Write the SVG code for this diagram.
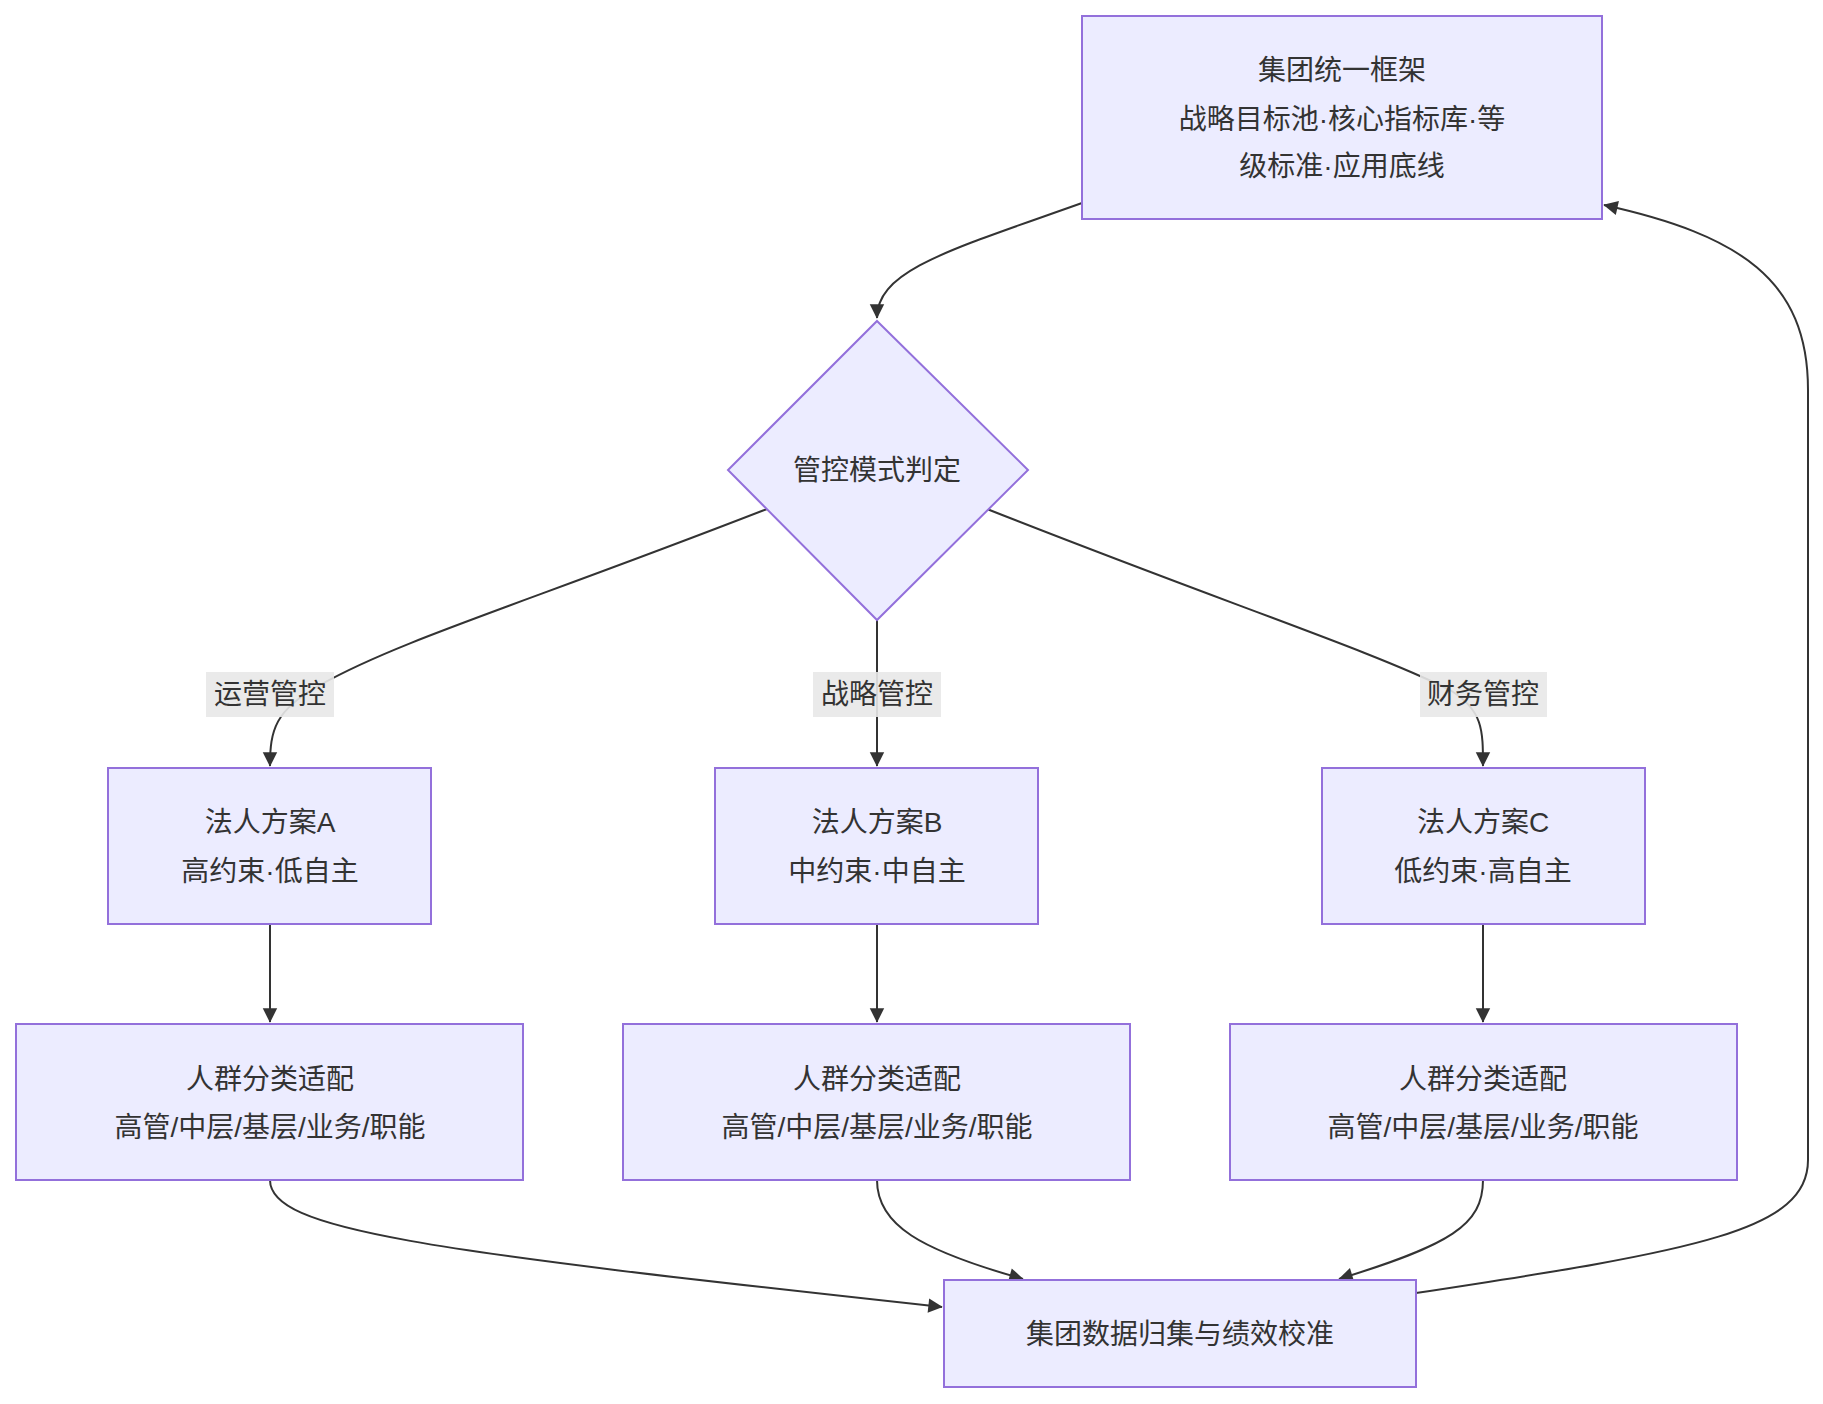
<svg xmlns="http://www.w3.org/2000/svg" width="1823" height="1404" viewBox="0 0 1823 1404">
<defs>
<style>
.n{fill:#ECECFF;stroke:#9370DB;stroke-width:2}
.t{font-family:"Liberation Sans","Noto Sans CJK SC",sans-serif;font-size:28px;fill:#333;text-anchor:middle;dominant-baseline:central}
.e{fill:none;stroke:#333;stroke-width:2;marker-end:url(#ah)}
.lb{fill:#e8e8e8;opacity:0.9}
</style>
<marker id="ah" viewBox="0 0 10 10" refX="9" refY="5" markerWidth="8" markerHeight="8" orient="auto" markerUnits="userSpaceOnUse" style="overflow:visible"><path d="M0,0L10,5L0,10z" fill="#333" transform="scale(1.8) translate(-4.5,-2.2)"/></marker>
</defs>
<rect width="1823" height="1404" fill="#fff"/>
<g id="edges">
<path class="e" d="M1082,203 C950,250 877,270 877,318"/>
<path class="e" d="M767,509 C520,605 400,640 320,685 C275,710 270,730 270,766"/>
<path class="e" d="M877,620 L877,766"/>
<path class="e" d="M987,509 C1230,605 1370,650 1450,690 C1483,710 1483,730 1483,766"/>
<path class="e" d="M270,924 L270,1022"/>
<path class="e" d="M877,924 L877,1022"/>
<path class="e" d="M1483,924 L1483,1022"/>
<path class="e" d="M270,1180 C270,1230 420,1250 942,1307"/>
<path class="e" d="M877,1180 C877,1225 920,1250 1023,1279"/>
<path class="e" d="M1483,1180 C1483,1225 1450,1245 1339,1279"/>
<path class="e" d="M1416,1293 C1700,1250 1808,1230 1808,1160 L1808,390 C1808,280 1740,235 1604,205"/>
</g>
<g id="labels">
<rect class="lb" x="206" y="672" width="128" height="45"/><text class="t" x="270" y="694">运营管控</text>
<rect class="lb" x="813" y="672" width="128" height="45"/><text class="t" x="877" y="694">战略管控</text>
<rect class="lb" x="1420" y="672" width="127" height="45"/><text class="t" x="1483" y="694">财务管控</text>
</g>
<g id="top"><rect class="n" x="1082" y="16" width="520" height="203"/><text class="t" x="1342" y="70">集团统一框架</text><text class="t" x="1342" y="119">战略目标池·核心指标库·等</text><text class="t" x="1342" y="166">级标准·应用底线</text></g>
<g id="decide"><polygon class="n" points="877,321 1028,470 877,620 728,470"/><text class="t" x="877" y="470">管控模式判定</text></g>
<g id="A"><rect class="n" x="108" y="768" width="323" height="156"/><text class="t" x="270" y="822">法人方案A</text><text class="t" x="270" y="871">高约束·低自主</text></g>
<g id="B"><rect class="n" x="715" y="768" width="323" height="156"/><text class="t" x="877" y="822">法人方案B</text><text class="t" x="877" y="871">中约束·中自主</text></g>
<g id="C"><rect class="n" x="1322" y="768" width="323" height="156"/><text class="t" x="1483" y="822">法人方案C</text><text class="t" x="1483" y="871">低约束·高自主</text></g>
<g id="A2"><rect class="n" x="16" y="1024" width="507" height="156"/><text class="t" x="270" y="1079">人群分类适配</text><text class="t" x="270" y="1127">高管/中层/基层/业务/职能</text></g>
<g id="B2"><rect class="n" x="623" y="1024" width="507" height="156"/><text class="t" x="877" y="1079">人群分类适配</text><text class="t" x="877" y="1127">高管/中层/基层/业务/职能</text></g>
<g id="C2"><rect class="n" x="1230" y="1024" width="507" height="156"/><text class="t" x="1483" y="1079">人群分类适配</text><text class="t" x="1483" y="1127">高管/中层/基层/业务/职能</text></g>
<g id="bottom"><rect class="n" x="944" y="1280" width="472" height="107"/><text class="t" x="1180" y="1334">集团数据归集与绩效校准</text></g>
</svg>
